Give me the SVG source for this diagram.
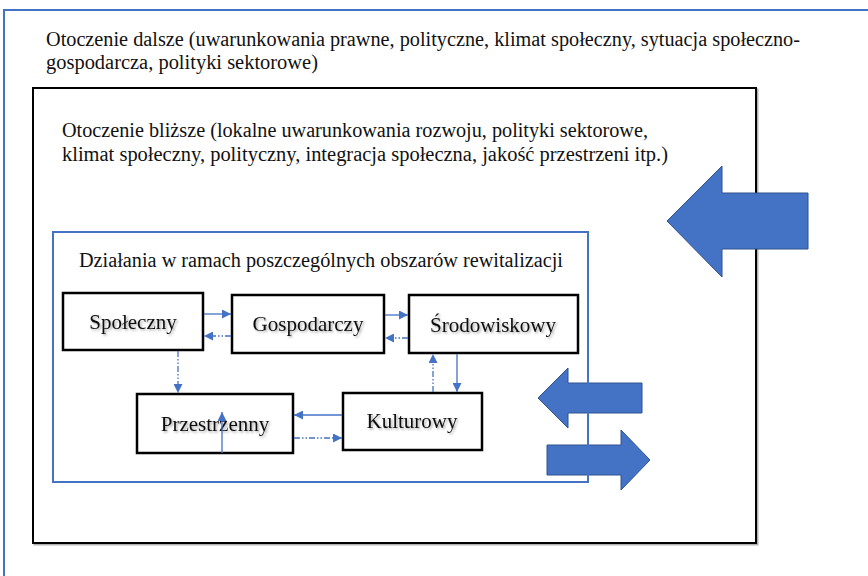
<svg xmlns="http://www.w3.org/2000/svg" width="868" height="576" viewBox="0 0 868 576">
<defs>
<style>
.t{font-family:"Liberation Serif","Times New Roman",serif;font-size:20px;fill:#111}
.n{font-family:"Liberation Serif","Times New Roman",serif;font-size:21px;fill:#111;text-anchor:middle;filter:url(#sh)}
.box{fill:#fff;stroke:#000;stroke-width:2.5}
.c{fill:none;stroke:#4472C4;stroke-width:1.3}
.d{stroke-dasharray:6 2 1.5 2 1.5 2}
.big{fill:#4472C4;stroke:#2F528F;stroke-width:1}
</style>
<filter id="sh" x="-10%" y="-20%" width="130%" height="150%">
<feDropShadow dx="1.5" dy="1.5" stdDeviation="0.8" flood-color="#000" flood-opacity="0.35"/>
</filter>
<filter id="bs" x="-5%" y="-5%" width="110%" height="110%">
<feDropShadow dx="1.5" dy="1.5" stdDeviation="0.6" flood-color="#000" flood-opacity="0.3"/>
</filter>
<marker id="ah" viewBox="0 0 10 10" refX="10" refY="5" markerWidth="9" markerHeight="9" markerUnits="userSpaceOnUse" orient="auto">
<path d="M0,0 L10,5 L0,10 z" fill="#4472C4"/>
</marker>
</defs>
<rect width="868" height="576" fill="#fff"/>
<g id="outer-env">
<rect x="4" y="10" width="900" height="600" fill="none" stroke="#4472C4" stroke-width="2"/>
<text class="t" x="46" y="46" textLength="754" lengthAdjust="spacingAndGlyphs">Otoczenie dalsze (uwarunkowania prawne, polityczne, klimat społeczny, sytuacja społeczno-</text>
<text class="t" x="46" y="69" textLength="272" lengthAdjust="spacingAndGlyphs">gospodarcza, polityki sektorowe)</text>
</g>
<g id="near-env">
<rect x="33" y="88" width="723" height="455" fill="#fff" stroke="#000" stroke-width="2" filter="url(#bs)"/>
<text class="t" x="62" y="137" textLength="586" lengthAdjust="spacingAndGlyphs">Otoczenie bliższe (lokalne uwarunkowania rozwoju, polityki sektorowe,</text>
<text class="t" x="62" y="161" textLength="606" lengthAdjust="spacingAndGlyphs">klimat społeczny, polityczny, integracja społeczna, jakość przestrzeni itp.)</text>
</g>
<g id="big-arrow">
<polygon class="big" points="667,221 722,166 722,193 808,193 808,249 722,249 722,277"/>
</g>
<g id="small-arrows">
<polygon class="big" points="538,398 568,368 568,383 642,383 642,413 568,413 568,428"/>
<polygon class="big" points="650,460 621,430 621,445 547,445 547,475 621,475 621,490"/>
</g>
<g id="areas">
<rect x="53" y="232" width="535" height="250" fill="none" stroke="#4472C4" stroke-width="2"/>
<text class="t" x="79" y="267" textLength="484" lengthAdjust="spacingAndGlyphs">Działania w ramach poszczególnych obszarów rewitalizacji</text>
</g>
<g id="spoleczny">
<rect class="box" x="63" y="293" width="140" height="57"/>
<text class="n" x="133" y="329">Społeczny</text>
</g>
<g id="gospodarczy">
<rect class="box" x="232" y="295" width="152" height="58"/>
<text class="n" x="308" y="331">Gospodarczy</text>
</g>
<g id="srodowiskowy">
<rect class="box" x="409" y="295" width="169" height="58"/>
<text class="n" x="493" y="332">Środowiskowy</text>
</g>
<g id="przestrzenny">
<rect class="box" x="137" y="394" width="156" height="59"/>
<text class="n" x="215" y="431">Przestrzenny</text>
</g>
<g id="kulturowy">
<rect class="box" x="343" y="393" width="139" height="57"/>
<text class="n" x="412" y="428">Kulturowy</text>
</g>
<g id="connectors">
<line class="c" x1="204" y1="314" x2="231" y2="314" marker-end="url(#ah)"/>
<line class="c d" x1="231" y1="336" x2="204" y2="336" marker-end="url(#ah)"/>
<line class="c" x1="385" y1="315" x2="408" y2="315" marker-end="url(#ah)"/>
<line class="c d" x1="408" y1="338" x2="385" y2="338" marker-end="url(#ah)"/>
<line class="c d" x1="178" y1="351" x2="178" y2="393" marker-end="url(#ah)"/>
<line class="c" x1="222" y1="453" x2="222" y2="412" marker-end="url(#ah)"/>
<line class="c" x1="342" y1="415" x2="294" y2="415" marker-end="url(#ah)"/>
<line class="c d" x1="294" y1="438" x2="342" y2="438" marker-end="url(#ah)"/>
<line class="c d" x1="433" y1="392" x2="433" y2="354" marker-end="url(#ah)"/>
<line class="c" x1="457" y1="354" x2="457" y2="392" marker-end="url(#ah)"/>
</g>
</svg>
